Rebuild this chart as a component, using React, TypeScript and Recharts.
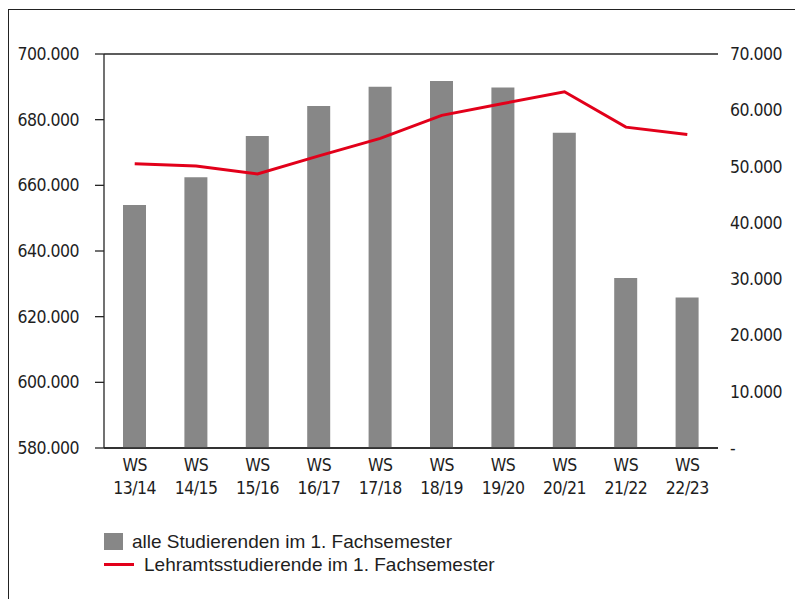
import { ComposedChart, Bar, Line, XAxis, YAxis, CartesianGrid } from 'recharts'

const semester = ['WS 13/14', 'WS 14/15', 'WS 15/16', 'WS 16/17', 'WS 17/18', 'WS 18/19', 'WS 19/20', 'WS 20/21', 'WS 21/22', 'WS 22/23']
const alleStudierende = [654000, 662500, 675000, 684200, 690000, 691800, 689800, 676000, 631800, 625800]
const lehramt = [50500, 50100, 48700, 51900, 55000, 59100, 61200, 63300, 57000, 55700]
const leftTicks = [580000, 600000, 620000, 640000, 660000, 680000, 700000]
const rightTicks = [0, 10000, 20000, 30000, 40000, 50000, 60000, 70000]

const data = semester.map((s, i) => ({ name: s, alle: alleStudierende[i], lehramt: lehramt[i] }))

const AXIS_FONT = '"DejaVu Sans Condensed", "DejaVu Sans", sans-serif'
const LEGEND_FONT = '"Liberation Sans", Arial, sans-serif'
const TEXT = '#1e1e1e'
const BAR = '#878787'
const RED = '#e2001a'
const axisText = { fontStretch: 'condensed' as const, letterSpacing: '-0.5px' }

const fmt = (v: number) => String(v).replace(/\B(?=(\d{3})+(?!\d))/g, '.')

function SemesterTick({ x, y, payload }: any) {
  const [a, b] = String(payload.value).split(' ')
  return (
    <text x={x} y={y} textAnchor="middle" fill={TEXT} fontSize={17.5} fontFamily={AXIS_FONT} style={axisText}>
      <tspan x={x} dy={15}>{a}</tspan>
      <tspan x={x} dy={23}>{b}</tspan>
    </text>
  )
}

function ValueTick({ x, y, payload, textAnchor, zeroDash }: any) {
  const v = payload.value as number
  return (
    <text x={x} y={y} dy={6} textAnchor={textAnchor} fill={TEXT} fontSize={17.5} fontFamily={AXIS_FONT} style={axisText}>
      {zeroDash && v === 0 ? '-' : fmt(v)}
    </text>
  )
}

export default function App() {
  return (
    <div style={{ position: 'absolute', left: 0, top: 0, width: 795, height: 599, background: '#fff', overflow: 'hidden' }}>
      <div style={{ position: 'absolute', left: 8, top: 9, width: 820, height: 640, border: '1.5px solid #222' }} />
      <ComposedChart
        width={795}
        height={599}
        data={data}
        margin={{ top: 54, right: 0, left: 0, bottom: 91 }}
        barCategoryGap={0}
        style={{ position: 'absolute', left: 0, top: 0 }}
      >
        <CartesianGrid vertical={false} stroke="#262626" strokeWidth={1.3} />
        <XAxis
          dataKey="name"
          height={60}
          tick={<SemesterTick />}
          tickLine={false}
          axisLine={{ stroke: '#262626', strokeWidth: 1.3 }}
          interval={0}
        />
        <YAxis
          yAxisId="left"
          width={104}
          domain={[580000, 700000]}
          ticks={leftTicks}
          tickSize={9}
          tickMargin={16}
          tickLine={{ stroke: '#262626', strokeWidth: 1.3 }}
          axisLine={{ stroke: '#262626', strokeWidth: 1.3 }}
          tick={<ValueTick />}
          interval={0}
        />
        <YAxis
          yAxisId="right"
          orientation="right"
          width={77}
          domain={[0, 70000]}
          ticks={rightTicks}
          tickLine={false}
          axisLine={false}
          tickSize={6}
          tickMargin={6}
          tick={<ValueTick zeroDash />}
          interval={0}
        />
        <Bar yAxisId="left" dataKey="alle" fill={BAR} barSize={23} isAnimationActive={false} />
        <Line
          yAxisId="right"
          dataKey="lehramt"
          type="linear"
          stroke={RED}
          strokeWidth={3}
          dot={false}
          activeDot={false}
          isAnimationActive={false}
        />
      </ComposedChart>
      <div style={{ position: 'absolute', left: 104, top: 530, fontSize: 19, fontFamily: LEGEND_FONT, color: TEXT, lineHeight: '23px' }}>
        <div style={{ display: 'flex', alignItems: 'center' }}>
          <span style={{ display: 'inline-block', width: 19, height: 17, background: BAR, marginRight: 9 }} />
          alle Studierenden im 1. Fachsemester
        </div>
        <div style={{ display: 'flex', alignItems: 'center' }}>
          <span style={{ display: 'inline-block', width: 30, height: 3, background: RED, marginRight: 10 }} />
          Lehramtsstudierende im 1. Fachsemester
        </div>
      </div>
    </div>
  )
}
